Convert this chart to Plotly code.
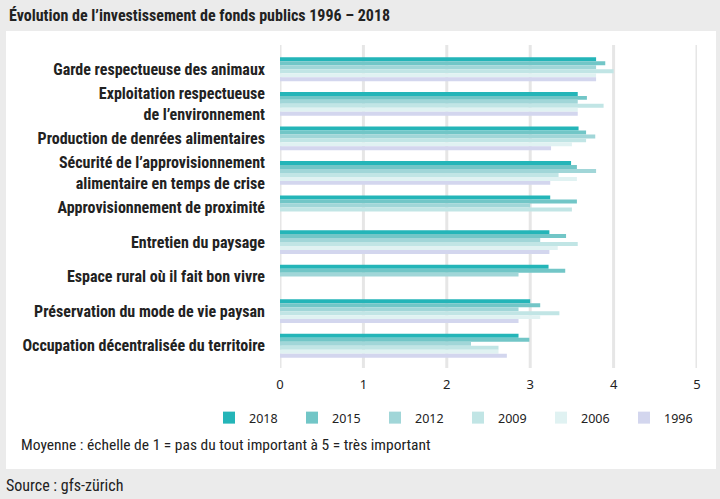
import plotly.graph_objects as go

categories = [
    "Garde respectueuse des animaux",
    "Exploitation respectueuse<br>de l’environnement",
    "Production de denrées alimentaires",
    "Sécurité de l’approvisionnement<br>alimentaire en temps de crise",
    "Approvisionnement de proximité",
    "Entretien du paysage",
    "Espace rural où il fait bon vivre",
    "Préservation du mode de vie paysan",
    "Occupation décentralisée du territoire",
]

years = ["2018", "2015", "2012", "2009", "2006", "1996"]

v2018 = [3.79, 3.57, 3.58, 3.49, 3.24, 3.23, 3.22, 3.00, 2.86]
v2015 = [3.90, 3.68, 3.67, 3.56, 3.56, 3.43, 3.42, 3.12, 2.99]
v2012 = [3.79, 3.57, 3.78, 3.79, 3.00, 3.12, 2.86, 2.86, 2.29]
v2009 = [4.00, 3.88, 3.67, 3.34, 3.50, 3.57, None, 3.35, 2.62]
v2006 = [3.79, 3.57, 3.50, 3.56, None, 3.33, None, 3.12, 2.62]
v1996 = [3.79, 3.57, 3.25, 3.24, None, 3.23, None, 2.86, 2.72]

series = [v2018, v2015, v2012, v2009, v2006, v1996]
colors = ["#24b5b8", "#72c6c7", "#a1d6d8", "#c1e5e5", "#e0f2f2", "#d3d6ee"]

x_ticks = [0, 1, 2, 3, 4, 5]

FONT = "Roboto Condensed, Liberation Sans Narrow, DejaVu Sans Condensed, Roboto, sans-serif"

fig = go.Figure()
for name, vals, col in zip(years, series, colors):
    fig.add_trace(go.Bar(
        y=categories, x=vals, name=name, orientation="h",
        marker=dict(color=col, line=dict(width=0)),
    ))

L, R, T, B = 280, 23, 52, 136
W, H = 720, 499
pw, ph = W - L - R, H - T - B

def px_x(p):
    return (p - L) / pw

def px_y(p):
    return 1 - (p - T) / ph

shapes = [
    dict(type="rect", xref="paper", yref="paper",
         x0=px_x(6), x1=px_x(716), y0=px_y(469), y1=px_y(31),
         fillcolor="white", line=dict(width=0), layer="below"),
]
for t in x_ticks:
    shapes.append(dict(type="line", xref="x", yref="paper", x0=t, x1=t,
                       y0=px_y(368), y1=px_y(45),
                       line=dict(color="#e6e6e6", width=3), layer="below"))

fig.update_layout(
    width=W, height=H,
    margin=dict(l=L, r=R, t=T, b=B, autoexpand=False),
    paper_bgcolor="#ebebeb",
    plot_bgcolor="rgba(0,0,0,0)",
    barmode="group",
    bargap=0.31,
    bargroupgap=0,
    shapes=shapes,
    font=dict(family=FONT, color="#222222", size=13),
    xaxis=dict(range=[0, 5], tickvals=x_ticks, showgrid=False, zeroline=False,
               showline=False, ticks="", ticklabelstandoff=12, automargin=False,
               tickfont=dict(family="Noto Sans, sans-serif", size=13, color="#222")),
    yaxis=dict(autorange="reversed", showgrid=False, zeroline=False, showline=False,
               ticks="", ticklabelstandoff=14, automargin=False,
               tickfont=dict(family=FONT, size=16, color="#222", weight="bold")),
    legend=dict(orientation="h", x=px_x(209), xanchor="left", y=px_y(403), yanchor="top",
                traceorder="normal", entrywidth=38, entrywidthmode="pixels",
                font=dict(family="Noto Sans, sans-serif", size=12.5, color="#222"),
                bgcolor="rgba(0,0,0,0)"),
    showlegend=True,
    annotations=[
        dict(text="<b>Évolution de l’investissement de fonds publics 1996 – 2018</b>",
             xref="paper", yref="paper", x=px_x(7), y=px_y(15), xanchor="left", yanchor="middle",
             showarrow=False, font=dict(family=FONT, size=16, color="#222")),
        dict(text="Moyenne : échelle de 1 = pas du tout important à 5 = très important",
             xref="paper", yref="paper", x=px_x(19), y=px_y(445), xanchor="left", yanchor="middle",
             showarrow=False, font=dict(family=FONT, size=15.5, color="#222")),
        dict(text="Source : gfs-zürich",
             xref="paper", yref="paper", x=px_x(4), y=px_y(485), xanchor="left", yanchor="middle",
             showarrow=False, font=dict(family=FONT, size=16, color="#222")),
    ],
)

fig.write_html("out.html", config={"displayModeBar": False},
               post_script="document.body.style.margin='0';document.body.style.overflow='hidden';")
